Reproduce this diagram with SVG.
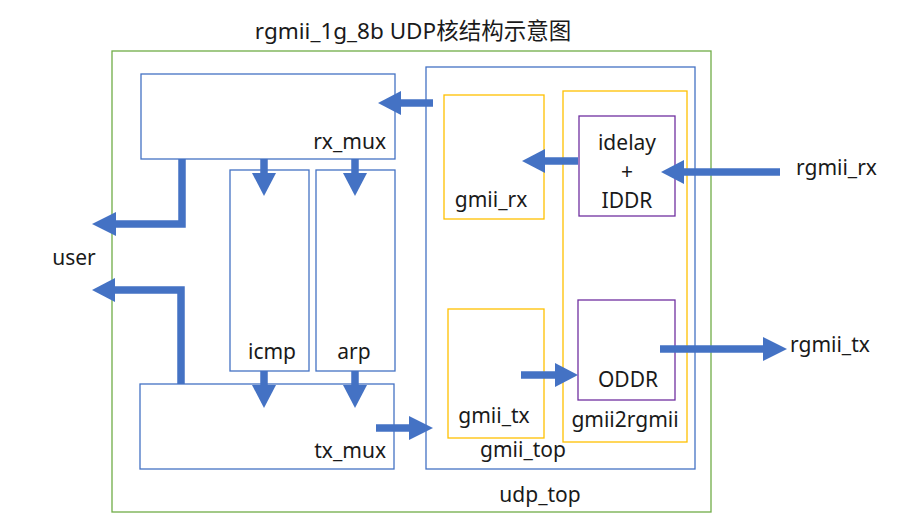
<svg xmlns="http://www.w3.org/2000/svg" width="919" height="518" viewBox="0 0 919 518">
<style>
text{font-family:"Noto Sans","Noto Sans CJK SC",sans-serif;font-size:21px;fill:#1a1a1a}
.t{font-size:22.5px}
.b{fill:none;stroke:#4472C4;stroke-width:1.3}
.g{fill:none;stroke:#70AD47;stroke-width:1.3}
.y{fill:none;stroke:#FFC000;stroke-width:1.3}
.p{fill:none;stroke:#7030A0;stroke-width:1.3}
.s{fill:none;stroke:#4472C4;stroke-width:7.5}
.h{fill:#4472C4}
.m{text-anchor:middle}
.e{text-anchor:end}
</style>
<rect width="919" height="518" fill="#fff"/>
<text class="m t" x="413" y="39">rgmii_1g_8b UDP核结构示意图</text>
<g id="udp_top"><rect class="g" x="112" y="51" width="599" height="461"/><text class="m" x="540" y="502">udp_top</text></g>
<g id="rx_mux"><rect class="b" x="141" y="74" width="254" height="85"/><text class="e" x="386" y="149">rx_mux</text></g>
<g id="icmp"><rect class="b" x="230" y="170" width="79" height="201"/><text class="m" x="272" y="359">icmp</text></g>
<g id="arp"><rect class="b" x="316" y="170" width="79" height="201"/><text class="m" x="354" y="359">arp</text></g>
<g id="tx_mux"><rect class="b" x="140" y="384" width="254" height="85"/><text class="e" x="386" y="458">tx_mux</text></g>
<g id="gmii_top"><rect class="b" x="426" y="67" width="269" height="402"/><text class="m" x="523" y="457">gmii_top</text></g>
<g id="gmii_rx"><rect class="y" x="444" y="95" width="100" height="124"/><text class="m" x="491" y="207">gmii_rx</text></g>
<g id="gmii_tx"><rect class="y" x="448" y="309" width="96" height="129"/><text class="m" x="494" y="423">gmii_tx</text></g>
<g id="gmii2rgmii"><rect class="y" x="563" y="91" width="124" height="351"/><text class="m" x="625" y="427">gmii2rgmii</text></g>
<g id="iddr"><rect class="p" x="579" y="116" width="96" height="100"/><text class="m" x="627" y="150">idelay</text><text class="m" x="627" y="179">+</text><text class="m" x="627" y="208">IDDR</text></g>
<g id="oddr"><rect class="p" x="578" y="300" width="97" height="100"/><text class="m" x="628" y="387">ODDR</text></g>
<g id="user"><text class="m" x="74" y="265">user</text></g>
<g id="rgmii_rx"><text x="796" y="175">rgmii_rx</text></g>
<g id="rgmii_tx"><text x="790" y="352">rgmii_tx</text></g>
<g id="connectors">
<path class="s" d="M433 103H398"/><path class="h" d="M378 103L401 91V115Z"/>
<path class="s" d="M264 159V176"/><path class="h" d="M264 196L252 173H276Z"/>
<path class="s" d="M355 159V176"/><path class="h" d="M355 196L343 173H367Z"/>
<path class="s" d="M182 159V224H112"/><path class="h" d="M92 224L116 212V236Z"/>
<path class="s" d="M181 384V290H112"/><path class="h" d="M92 290L115 278V302Z"/>
<path class="s" d="M264 371V388"/><path class="h" d="M264 408L252 385H276Z"/>
<path class="s" d="M355 371V388"/><path class="h" d="M355 408L343 385H367Z"/>
<path class="s" d="M376 428H412"/><path class="h" d="M433 428L409 416V440Z"/>
<path class="s" d="M521 375H558"/><path class="h" d="M578 375L555 363V387Z"/>
<path class="s" d="M660 349H766"/><path class="h" d="M787 349L763 337V361Z"/>
<path class="s" d="M780 172H680"/><path class="h" d="M661 172L684 160V184Z"/>
<path class="s" d="M578 161H541"/><path class="h" d="M522 161L545 149V173Z"/>
</g>
</svg>
